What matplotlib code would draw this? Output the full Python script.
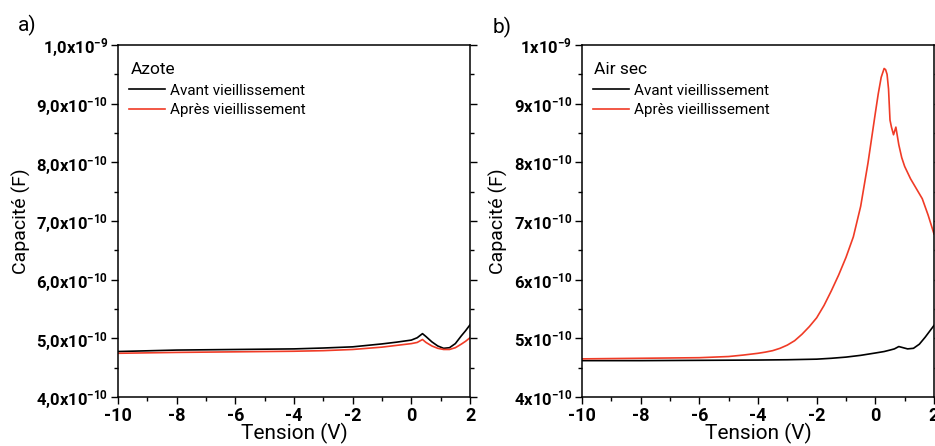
import numpy as np
import matplotlib
matplotlib.use("Agg")
import matplotlib.pyplot as plt
from matplotlib.ticker import MultipleLocator

plt.rcParams['font.family'] = ['Roboto', 'DejaVu Sans']
plt.rcParams['mathtext.fontset'] = 'custom'
plt.rcParams['mathtext.rm'] = 'Roboto'
plt.rcParams['mathtext.bf'] = 'Roboto:bold'

# a) Azote  (capacité en 1e-10 F)
v_az_avant = [-10, -8, -6, -4, -3, -2, -1, -0.5, 0, 0.2, 0.38, 0.5, 0.7, 0.9, 1.1, 1.3, 1.5, 1.7, 1.85, 2.0]
c_az_avant = [4.775, 4.80, 4.81, 4.82, 4.835, 4.855, 4.905, 4.935, 4.97, 5.01, 5.08, 5.03, 4.94, 4.87,
              4.83, 4.84, 4.91, 5.04, 5.13, 5.23]
v_az_apres = [-10, -8, -6, -4, -3, -2, -1, -0.5, 0, 0.2, 0.38, 0.5, 0.7, 0.9, 1.1, 1.3, 1.5, 1.7, 1.85, 2.0]
c_az_apres = [4.745, 4.76, 4.77, 4.78, 4.79, 4.81, 4.85, 4.88, 4.91, 4.93, 4.98, 4.93, 4.87, 4.83,
              4.81, 4.81, 4.84, 4.90, 4.95, 5.01]

# b) Air sec
v_air_avant = [-10, -8, -6, -4, -3, -2, -1.5, -1, -0.5, 0, 0.3, 0.5, 0.65, 0.8, 0.95, 1.1, 1.3, 1.5,
               1.7, 1.85, 2.0]
c_air_avant = [4.62, 4.62, 4.625, 4.63, 4.635, 4.645, 4.66, 4.68, 4.71, 4.75, 4.775, 4.80, 4.82, 4.86,
               4.84, 4.82, 4.83, 4.90, 5.02, 5.12, 5.22]
v_air_apres = [-10, -9, -8, -7, -6, -5, -4.5, -4, -3.75, -3.5, -3.25, -3, -2.75, -2.5, -2.25, -2,
               -1.75, -1.5, -1.25, -1, -0.75, -0.5, -0.25, 0, 0.1, 0.2, 0.3, 0.35, 0.4, 0.45, 0.5,
               0.55, 0.62, 0.7, 0.8, 0.9, 1.0, 1.2, 1.4, 1.6, 1.8, 2.0]
c_air_apres = [4.65, 4.655, 4.66, 4.665, 4.67, 4.69, 4.715, 4.745, 4.765, 4.79, 4.83, 4.885, 4.96,
               5.07, 5.20, 5.35, 5.56, 5.81, 6.08, 6.38, 6.73, 7.25, 7.99, 8.84, 9.17, 9.45, 9.60,
               9.58, 9.50, 9.25, 8.72, 8.60, 8.47, 8.60, 8.30, 8.08, 7.93, 7.72, 7.55, 7.38, 7.10, 6.78]

x_ticks = [-10, -8, -6, -4, -2, 0, 2]
x_labels = ['-10', '-8', '-6', '-4', '-2', '0', '2']
y_ticks = [4e-10, 5e-10, 6e-10, 7e-10, 8e-10, 9e-10, 1e-9]
y_labels_a = [r'$\mathbf{4{,}0x10^{-10}}$', r'$\mathbf{5{,}0x10^{-10}}$', r'$\mathbf{6{,}0x10^{-10}}$',
              r'$\mathbf{7{,}0x10^{-10}}$', r'$\mathbf{8{,}0x10^{-10}}$', r'$\mathbf{9{,}0x10^{-10}}$',
              r'$\mathbf{1{,}0x10^{-9}}$']
y_labels_b = [r'$\mathbf{4x10^{-10}}$', r'$\mathbf{5x10^{-10}}$', r'$\mathbf{6x10^{-10}}$',
              r'$\mathbf{7x10^{-10}}$', r'$\mathbf{8x10^{-10}}$', r'$\mathbf{9x10^{-10}}$',
              r'$\mathbf{1x10^{-9}}$']

noir = 'black'
rouge = '#f03b26'

fig = plt.figure(figsize=(9.35, 4.46), dpi=100)
ax1 = fig.add_axes([118/935, 1-397/446, 352/935, 352/446])
ax2 = fig.add_axes([582/935, 1-397/446, 352/935, 352/446])

panneaux = [(ax1, v_az_avant, c_az_avant, v_az_apres, c_az_apres, 'Azote', y_labels_a, 'a)', 18, 25),
            (ax2, v_air_avant, c_air_avant, v_air_apres, c_air_apres, 'Air sec', y_labels_b, 'b)', 493, 27)]

for ax, va, ca, vp, cp, titre, ylab, lettre, xl, ylp in panneaux:
    ax.plot(va, np.array(ca)*1e-10, color=noir, lw=1.2, label='Avant vieillissement')
    ax.plot(vp, np.array(cp)*1e-10, color=rouge, lw=1.2, label='Après vieillissement')
    ax.set_xlim(-10, 2)
    ax.set_ylim(4e-10, 1e-9)
    ax.set_xticks(x_ticks)
    ax.set_xticklabels(x_labels, fontsize=13, fontweight='bold')
    ax.set_yticks(y_ticks)
    ax.set_yticklabels(ylab, fontsize=12)
    ax.xaxis.set_minor_locator(MultipleLocator(1))
    ax.yaxis.set_minor_locator(MultipleLocator(0.5e-10))
    ax.tick_params(which='both', direction='out', right=True, width=1)
    ax.tick_params(which='major', length=5, pad=2)
    ax.tick_params(which='minor', length=3)
    for s in ax.spines.values():
        s.set_linewidth(1.1)
    ax.set_xlabel('Tension (V)', fontsize=15, labelpad=-1)
    ax.set_ylabel('Capacité (F)', fontsize=14, labelpad=4)
    ax.text(0.035, 0.93, titre, transform=ax.transAxes, fontsize=12.5, va='center', ha='left')
    ax.legend(loc='upper left', bbox_to_anchor=(0.03, 0.89), frameon=False, fontsize=11,
              handlelength=2.4, handletextpad=0.3, borderpad=0, borderaxespad=0, labelspacing=0.35)
    fig.text(xl/935, 1-ylp/446, lettre, fontsize=15, va='center', ha='left')

fig.savefig('out.png', dpi=100)
